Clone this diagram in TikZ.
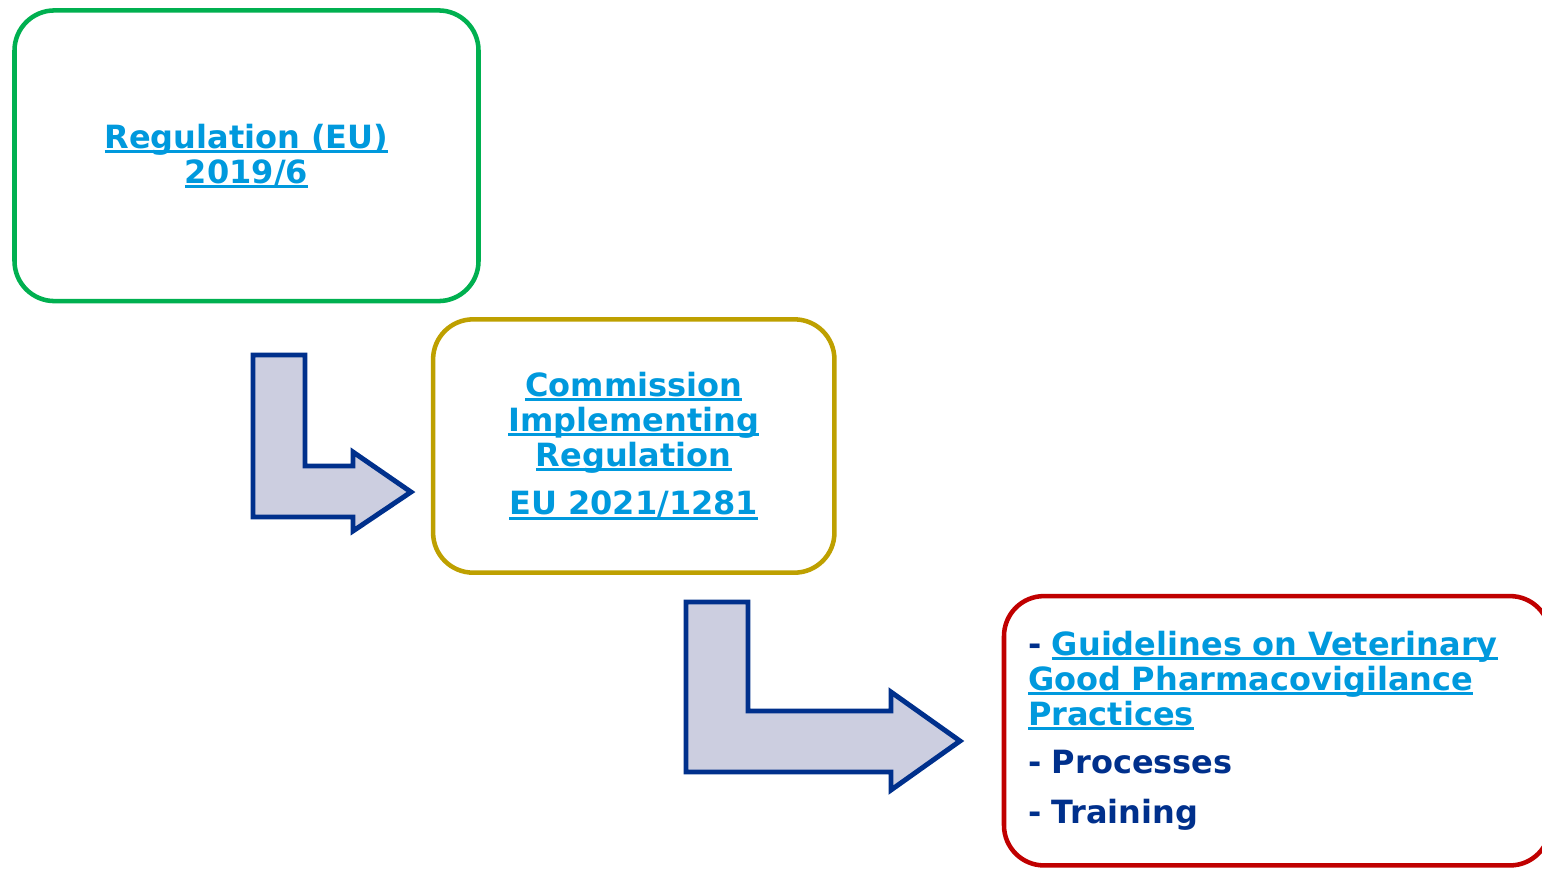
\documentclass[tikz,border=0pt]{standalone}
\usepackage{fontspec}
\setmainfont{DejaVu Sans}
\usepackage{tikz}
\usetikzlibrary{positioning,calc}
\definecolor{regGreen}{RGB}{0,176,80}
\definecolor{regGold}{RGB}{190,160,0}
\definecolor{regRed}{RGB}{192,0,0}
\definecolor{linkBlue}{RGB}{0,153,221}
\definecolor{navyBlue}{RGB}{0,48,140}
\definecolor{arrowFill}{RGB}{204,206,224}
\newcommand{\lnk}[1]{\leavevmode{\color{linkBlue}\setbox0\hbox{#1}\rlap{\rule[-3.6pt]{\wd0}{2.2pt}}\box0}}
\tikzset{
    block/.style={rectangle, draw, fill=white, rounded corners=30pt,
                  line width=3.4pt, align=center,
                  font=\fontsize{24}{26.25}\selectfont\bfseries},
    blockGreen/.style={block, draw=regGreen, minimum width=348pt, minimum height=218pt},
    blockGold/.style={block, draw=regGold, minimum width=301pt, minimum height=190pt},
    blockRed/.style={block, draw=regRed, minimum width=409.5pt, minimum height=202pt,
                  align=left, text width=373.5pt, inner xsep=18pt, text=navyBlue},
    bentArrow/.style={draw=navyBlue, fill=arrowFill, line width=3.7pt, line join=miter}
}
\begin{document}
\begin{tikzpicture}[x=0.75pt, y=-0.75pt]
  \useasboundingbox (0,0) rectangle (1542,868);

  \node [blockGreen] (reg) at (246.5,155.75) {\lnk{Regulation (EU)}\\\lnk{2019/6}};
  \node [blockGold] (impl) at (633.75,446) {\lnk{Commission}\\\lnk{Implementing}\\\lnk{Regulation}\\[10pt]\lnk{EU 2021/1281}};
  \node [blockRed] (guide) at (1277,730.75) {- \lnk{Guidelines on Veterinary}\\
      \lnk{Good Pharmacovigilance}\\
      \lnk{Practices}\\[10pt]
      - Processes\\[11pt]
      - Training};

  % bent arrows between the boxes
  \coordinate (bendA) at (253,355);
  \coordinate (bendB) at (686,602);
  \draw[bentArrow] (bendA) -- ++(52,0) -- ++(0,111) -- ++(48,0) -- ++(0,-14)
      -- ++(58,40) -- ++(-58,39) -- ++(0,-14) -- ++(-100,0) -- cycle;
  \draw[bentArrow] (bendB) -- ++(62,0) -- ++(0,109) -- ++(143,0) -- ++(0,-19)
      -- ++(69,49) -- ++(-69,49) -- ++(0,-18) -- ++(-205,0) -- cycle;
\end{tikzpicture}
\end{document}
